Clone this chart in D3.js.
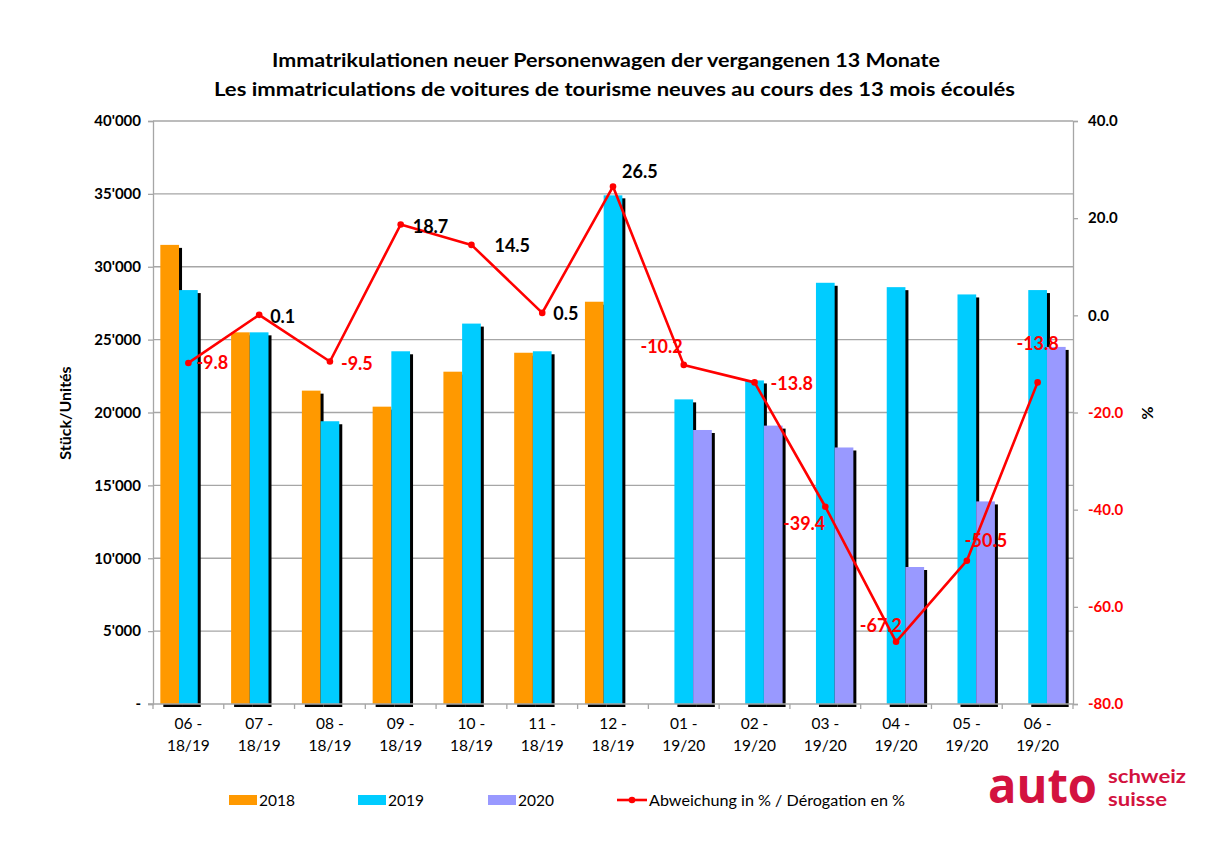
<!DOCTYPE html>
<html><head><meta charset="utf-8">
<script src="https://cdn.jsdelivr.net/npm/d3@7"></script>
<style>body{margin:0;background:#fff}</style>
</head><body><svg id="c" width="1227" height="864"></svg>
<script>
// ---------- data ----------
const monthLabels  = ["06 -","07 -","08 -","09 -","10 -","11 -","12 -","01 -","02 -","03 -","04 -","05 -","06 -"];
const periodLabels = ["18/19","18/19","18/19","18/19","18/19","18/19","18/19","19/20","19/20","19/20","19/20","19/20","19/20"];
const seriesNames = ["2018","2019","2020"];
const values2018 = [31500,25500,21500,20400,22800,24100,27600,null,null,null,null,null,null];
const values2019 = [28400,25500,19400,24200,26100,24200,34900,20900,22200,28900,28600,28100,28400];
const values2020 = [null,null,null,null,null,null,null,18800,19100,17600,9400,13900,24500];
const deviation  = [-9.8,0.1,-9.5,18.7,14.5,0.5,26.5,-10.2,-13.8,-39.4,-67.2,-50.5,-13.8];
const leftTicks  = [0,5000,10000,15000,20000,25000,30000,35000,40000];
const leftTickLabels = ["-","5'000","10'000","15'000","20'000","25'000","30'000","35'000","40'000"];
const rightTicks = [-80,-60,-40,-20,0,20,40];
const titleLines = ["Immatrikulationen neuer Personenwagen der vergangenen 13 Monate",
                    "Les immatriculations de voitures de tourisme neuves au cours des 13 mois écoulés"];
const lineLegend = "Abweichung in % / Dérogation en %";

// ---------- layout / style ----------
const colors = {"2018":"#ff9900","2019":"#00ccff","2020":"#9999ff"};
const labelPlacement = [[8,0,"start"],[11,2,"start"],[11,2,"start"],[12,2,"start"],[23,1,"start"],[11,1,"start"],
  [9,-15,"start"],[-1,-18,"end"],[16,1,"start"],[0,17,"end"],[6,-16,"end"],[-2,-20,"start"],[0,-39,"middle"]];
const M = {left:153, right:1073, top:121, bottom:704};
const FONT = "Lato, 'Open Sans', sans-serif";
const gridColor = "#a6a6a6";

const svg = d3.select("#c");
const x = d3.scaleBand().domain(d3.range(monthLabels.length)).range([M.left, M.right]).padding(0);
const xs = d3.scaleBand().domain(seriesNames).range([0, x.bandwidth()]).paddingInner(0).paddingOuter(0.392);
const y = d3.scaleLinear().domain([0,40000]).range([M.bottom, M.top]);
const y2 = d3.scaleLinear().domain([-80,40]).range([M.bottom, M.top]);

// title
svg.selectAll("text.title").data(titleLines).enter().append("text")
  .attr("x", (d,i)=> i===0 ? 606 : 614.5).attr("y", (d,i)=> 67 + i*29)
  .attr("text-anchor","middle").attr("font-family",FONT).attr("font-weight","bold")
  .attr("font-size",19).attr("fill","#000")
  .attr("textLength",(d,i)=> i===0 ? 668 : 801).attr("lengthAdjust","spacingAndGlyphs")
  .text(d=>d);

// gridlines
svg.append("g").selectAll("line").data(leftTicks.filter(t=>t>0)).enter().append("line")
  .attr("x1",M.left).attr("x2",M.right).attr("y1",d=>y(d)).attr("y2",d=>y(d))
  .attr("stroke",gridColor).attr("stroke-width",1.3);

// bars with shadows
const seriesData = {"2018":values2018,"2019":values2019,"2020":values2020};
const barG = svg.append("g");
seriesNames.forEach(s=>{
  const vals = seriesData[s];
  vals.forEach((v,i)=>{
    if (v==null) return;
    const bx = x(i)+xs(s), bw = xs.bandwidth();
    barG.append("rect").attr("x",bx+3).attr("y",y(v)+3).attr("width",bw).attr("height",M.bottom-y(v)).attr("fill","#000");
    barG.append("rect").attr("x",bx).attr("y",y(v)).attr("width",bw).attr("height",M.bottom-y(v)).attr("fill",colors[s]);
  });
});

// left axis
const la = svg.append("g").attr("transform",`translate(${M.left},0)`)
  .call(d3.axisLeft(y).tickValues(leftTicks).tickSize(5).tickFormat((d,i)=>leftTickLabels[i]));
la.select(".domain").attr("stroke",gridColor).attr("stroke-width",1.3);
la.selectAll(".tick line").attr("stroke",gridColor).attr("stroke-width",1.3);
la.selectAll(".tick text").attr("font-family",FONT).attr("font-weight","bold").attr("font-size",15).attr("fill","#000").attr("x",-12);

// right axis
const ra = svg.append("g").attr("transform",`translate(${M.right},0)`)
  .call(d3.axisRight(y2).tickValues(rightTicks).tickSize(5).tickFormat(d3.format(".1f")));
ra.select(".domain").attr("stroke",gridColor).attr("stroke-width",1.3);
ra.selectAll(".tick line").attr("stroke",gridColor).attr("stroke-width",1.3);
ra.selectAll(".tick text").attr("font-family",FONT).attr("font-weight","bold").attr("font-size",15)
  .attr("fill",d=> d<0 ? "#ff0000" : "#000").attr("x",15)
  .text(d=> d3.format(".1f")(d).replace("−","-"));

// bottom axis
const bottomTicks = d3.range(monthLabels.length+1).map(i=> M.left + i*x.bandwidth());
svg.append("line").attr("x1",M.left-5).attr("x2",M.right).attr("y1",M.bottom).attr("y2",M.bottom).attr("stroke",gridColor).attr("stroke-width",1.3);
svg.append("g").selectAll("line").data(bottomTicks).enter().append("line")
  .attr("x1",d=>d).attr("x2",d=>d).attr("y1",M.bottom).attr("y2",M.bottom+5).attr("stroke",gridColor).attr("stroke-width",1.3);
const xl = svg.append("g").selectAll("text").data(monthLabels).enter().append("text")
  .attr("x",(d,i)=>x(i)+x.bandwidth()/2).attr("y",729).attr("text-anchor","middle")
  .attr("font-family",FONT).attr("font-size",15.5).attr("fill","#000");
xl.append("tspan").attr("x",(d,i)=>x(i)+x.bandwidth()/2).attr("dy",0).text(d=>d);
xl.append("tspan").attr("x",(d,i)=>x(i)+x.bandwidth()/2).attr("dy",22).text((d,i)=>periodLabels[i]);

// axis titles
svg.append("text").attr("transform","translate(71,413) rotate(-90)").attr("text-anchor","middle")
  .attr("font-family",FONT).attr("font-weight","bold").attr("font-size",16).text("Stück/Unités");
svg.append("text").attr("transform","translate(1142,413) rotate(90)").attr("text-anchor","middle")
  .attr("font-family",FONT).attr("font-weight","bold").attr("font-size",16).text("%");

// deviation line
const cx = i => x(i)+x.bandwidth()/2;
svg.append("path").datum(deviation)
  .attr("d", d3.line().x((d,i)=>cx(i)).y(d=>y2(d)))
  .attr("fill","none").attr("stroke","#ff0000").attr("stroke-width",2.6).attr("stroke-linejoin","round");
svg.append("g").selectAll("circle").data(deviation).enter().append("circle")
  .attr("cx",(d,i)=>cx(i)).attr("cy",d=>y2(d)).attr("r",3.3).attr("fill","#ff0000");
svg.append("g").selectAll("text").data(deviation).enter().append("text")
  .attr("x",(d,i)=>cx(i)+labelPlacement[i][0]).attr("y",(d,i)=>y2(d)+labelPlacement[i][1])
  .attr("dy","0.36em").attr("text-anchor",(d,i)=>labelPlacement[i][2])
  .attr("font-family",FONT).attr("font-weight","bold").attr("font-size",18)
  .attr("fill",d=> d<0 ? "#ff0000" : "#000").text(d=>d3.format(".1f")(d).replace("−","-"));

// legend
const lg = svg.append("g");
const legX = [229,358,488];
seriesNames.forEach((s,i)=>{
  lg.append("rect").attr("x",legX[i]).attr("y",795).attr("width",28).attr("height",10).attr("fill",colors[s]);
  lg.append("text").attr("x",legX[i]+30).attr("y",805.5).attr("font-family",FONT).attr("font-size",15.5).text(s);
});
lg.append("line").attr("x1",617).attr("x2",647).attr("y1",800).attr("y2",800).attr("stroke","#ff0000").attr("stroke-width",2.6);
lg.append("circle").attr("cx",632).attr("cy",800).attr("r",3.3).attr("fill","#ff0000");
lg.append("text").attr("x",649).attr("y",805.5).attr("font-family",FONT).attr("font-size",15.5)
  .attr("textLength",256).attr("lengthAdjust","spacingAndGlyphs").text(lineLegend);

// logo
const logoColor = "#d3123f";
svg.append("text").attr("x",988).attr("y",803).attr("font-family","'Open Sans', Lato, sans-serif").attr("font-weight","bold")
  .attr("font-size",48).attr("fill",logoColor).attr("textLength",109).attr("lengthAdjust","spacingAndGlyphs").text("auto");
svg.append("text").attr("x",1108).attr("y",783).attr("font-family","Lato, sans-serif").attr("font-weight","bold")
  .attr("font-size",19).attr("fill",logoColor).attr("textLength",78).attr("lengthAdjust","spacingAndGlyphs").text("schweiz");
svg.append("text").attr("x",1108).attr("y",806).attr("font-family","Lato, sans-serif").attr("font-weight","bold")
  .attr("font-size",19).attr("fill",logoColor).attr("textLength",59).attr("lengthAdjust","spacingAndGlyphs").text("suisse");
</script></body></html>
